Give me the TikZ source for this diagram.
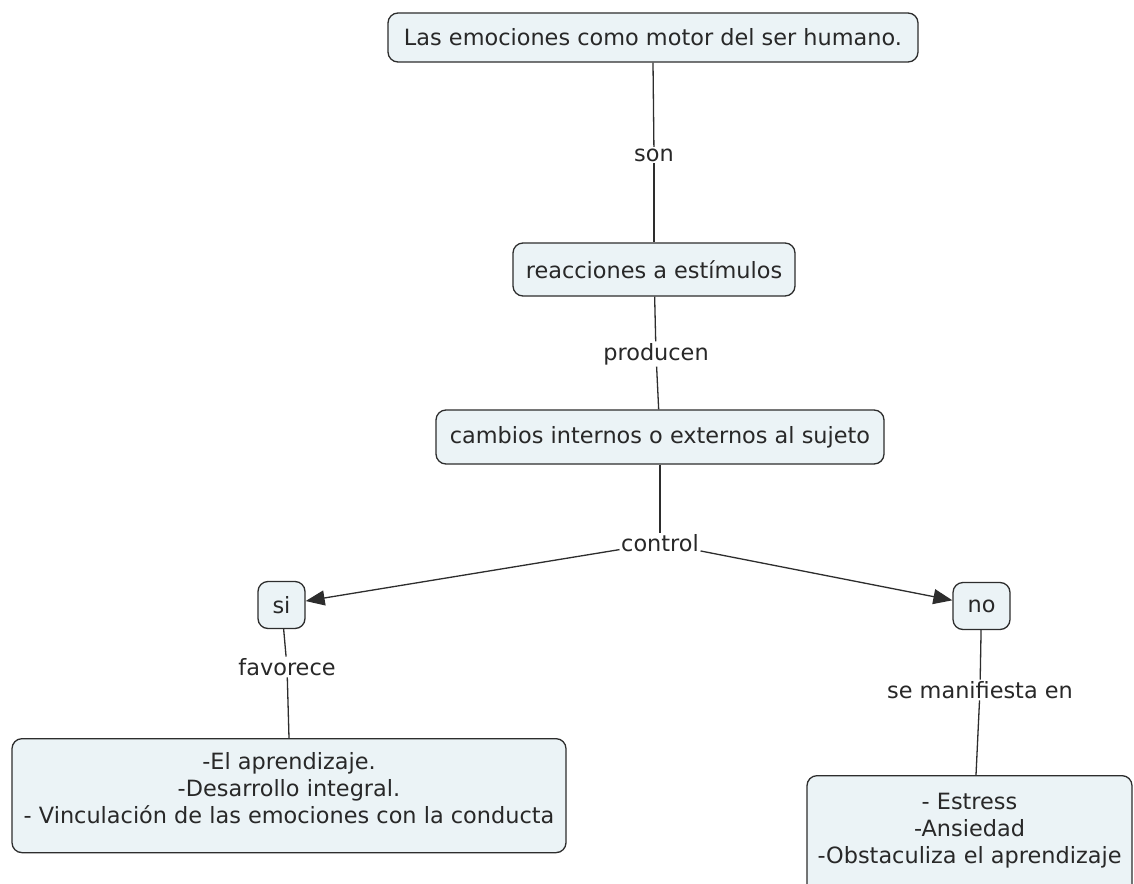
\documentclass[tikz,border=0pt]{standalone}
\usepackage{fontspec}
\setmainfont{DejaVu Sans}
\usetikzlibrary{arrows.meta}
\definecolor{boxfill}{RGB}{235,243,246}
\definecolor{boxline}{RGB}{45,45,45}
\definecolor{txt}{RGB}{40,40,40}
\tikzset{
  concept/.style={draw=boxline, fill=boxfill, line width=1.3pt, rounded corners=10pt,
    text=txt, font=\fontsize{22.4}{27}\selectfont, inner sep=0pt, align=center},
  linkph/.style={fill=white, text=txt, font=\fontsize{22.4}{27}\selectfont, inner sep=1.5pt},
  conn/.style={draw=boxline, line width=1.3pt},
  arr/.style={conn, -{Triangle[length=19pt,width=15pt]}}
}
\begin{document}
\begin{tikzpicture}[x=1pt,y=-1pt]
\useasboundingbox (0,0) rectangle (1134,883);
\clip (0,0) rectangle (1134,883);
\fill[white] (0,0) rectangle (1134,883);
% concepts
\node[concept, minimum width=530pt, minimum height=49pt] (top) at (653,37.5) {Las emociones como motor del ser humano.};
\node[concept, minimum width=282pt, minimum height=53pt] (reac) at (654,269.5) {reacciones a estímulos};
\node[concept, minimum width=448pt, minimum height=54pt] (camb) at (660,437) {cambios internos o externos al sujeto};
\node[concept, minimum width=47pt, minimum height=47pt] (si) at (281.5,605) {si};
\node[concept, minimum width=57pt, minimum height=47pt] (no) at (981.5,606) {no};
\node[concept, anchor=north] (left) at (289,738)
  {\parbox[t][114pt][t]{554pt}{\centering\vspace*{14pt}-El aprendizaje.\\-Desarrollo integral.\\- Vinculación de las emociones con la conducta}};
\node[concept, anchor=north] (right) at (969.5,775)
  {\parbox[t][125pt][t]{325pt}{\centering\vspace*{18pt}- Estress\\-Ansiedad\\-Obstaculiza el aprendizaje}};
\coordinate (rtop) at (976,775);
% linking phrases
\node[linkph] (son) at (654,155) {son};
\node[linkph] (prod) at (656,354) {producen};
\node[linkph] (ctrl) at (660,543) {control};
\node[linkph] (fav) at (287,667) {favorece};
\node[linkph] (man) at (980,690) {se manifiesta en};
% connectors
\draw[conn] (top.south) -- (son);
\draw[conn] (son) -- (reac.north);
\draw[conn] (reac) -- (prod);
\draw[conn] (prod) -- (camb);
\draw[conn] (camb) -- (ctrl);
\draw[arr] (ctrl) -- (si);
\draw[arr] (ctrl) -- (no);
\draw[conn] (si) -- (fav);
\draw[conn] (fav) -- (left.north);
\draw[conn] (no) -- (man);
\draw[conn] (man) -- (rtop);
\end{tikzpicture}
\end{document}
